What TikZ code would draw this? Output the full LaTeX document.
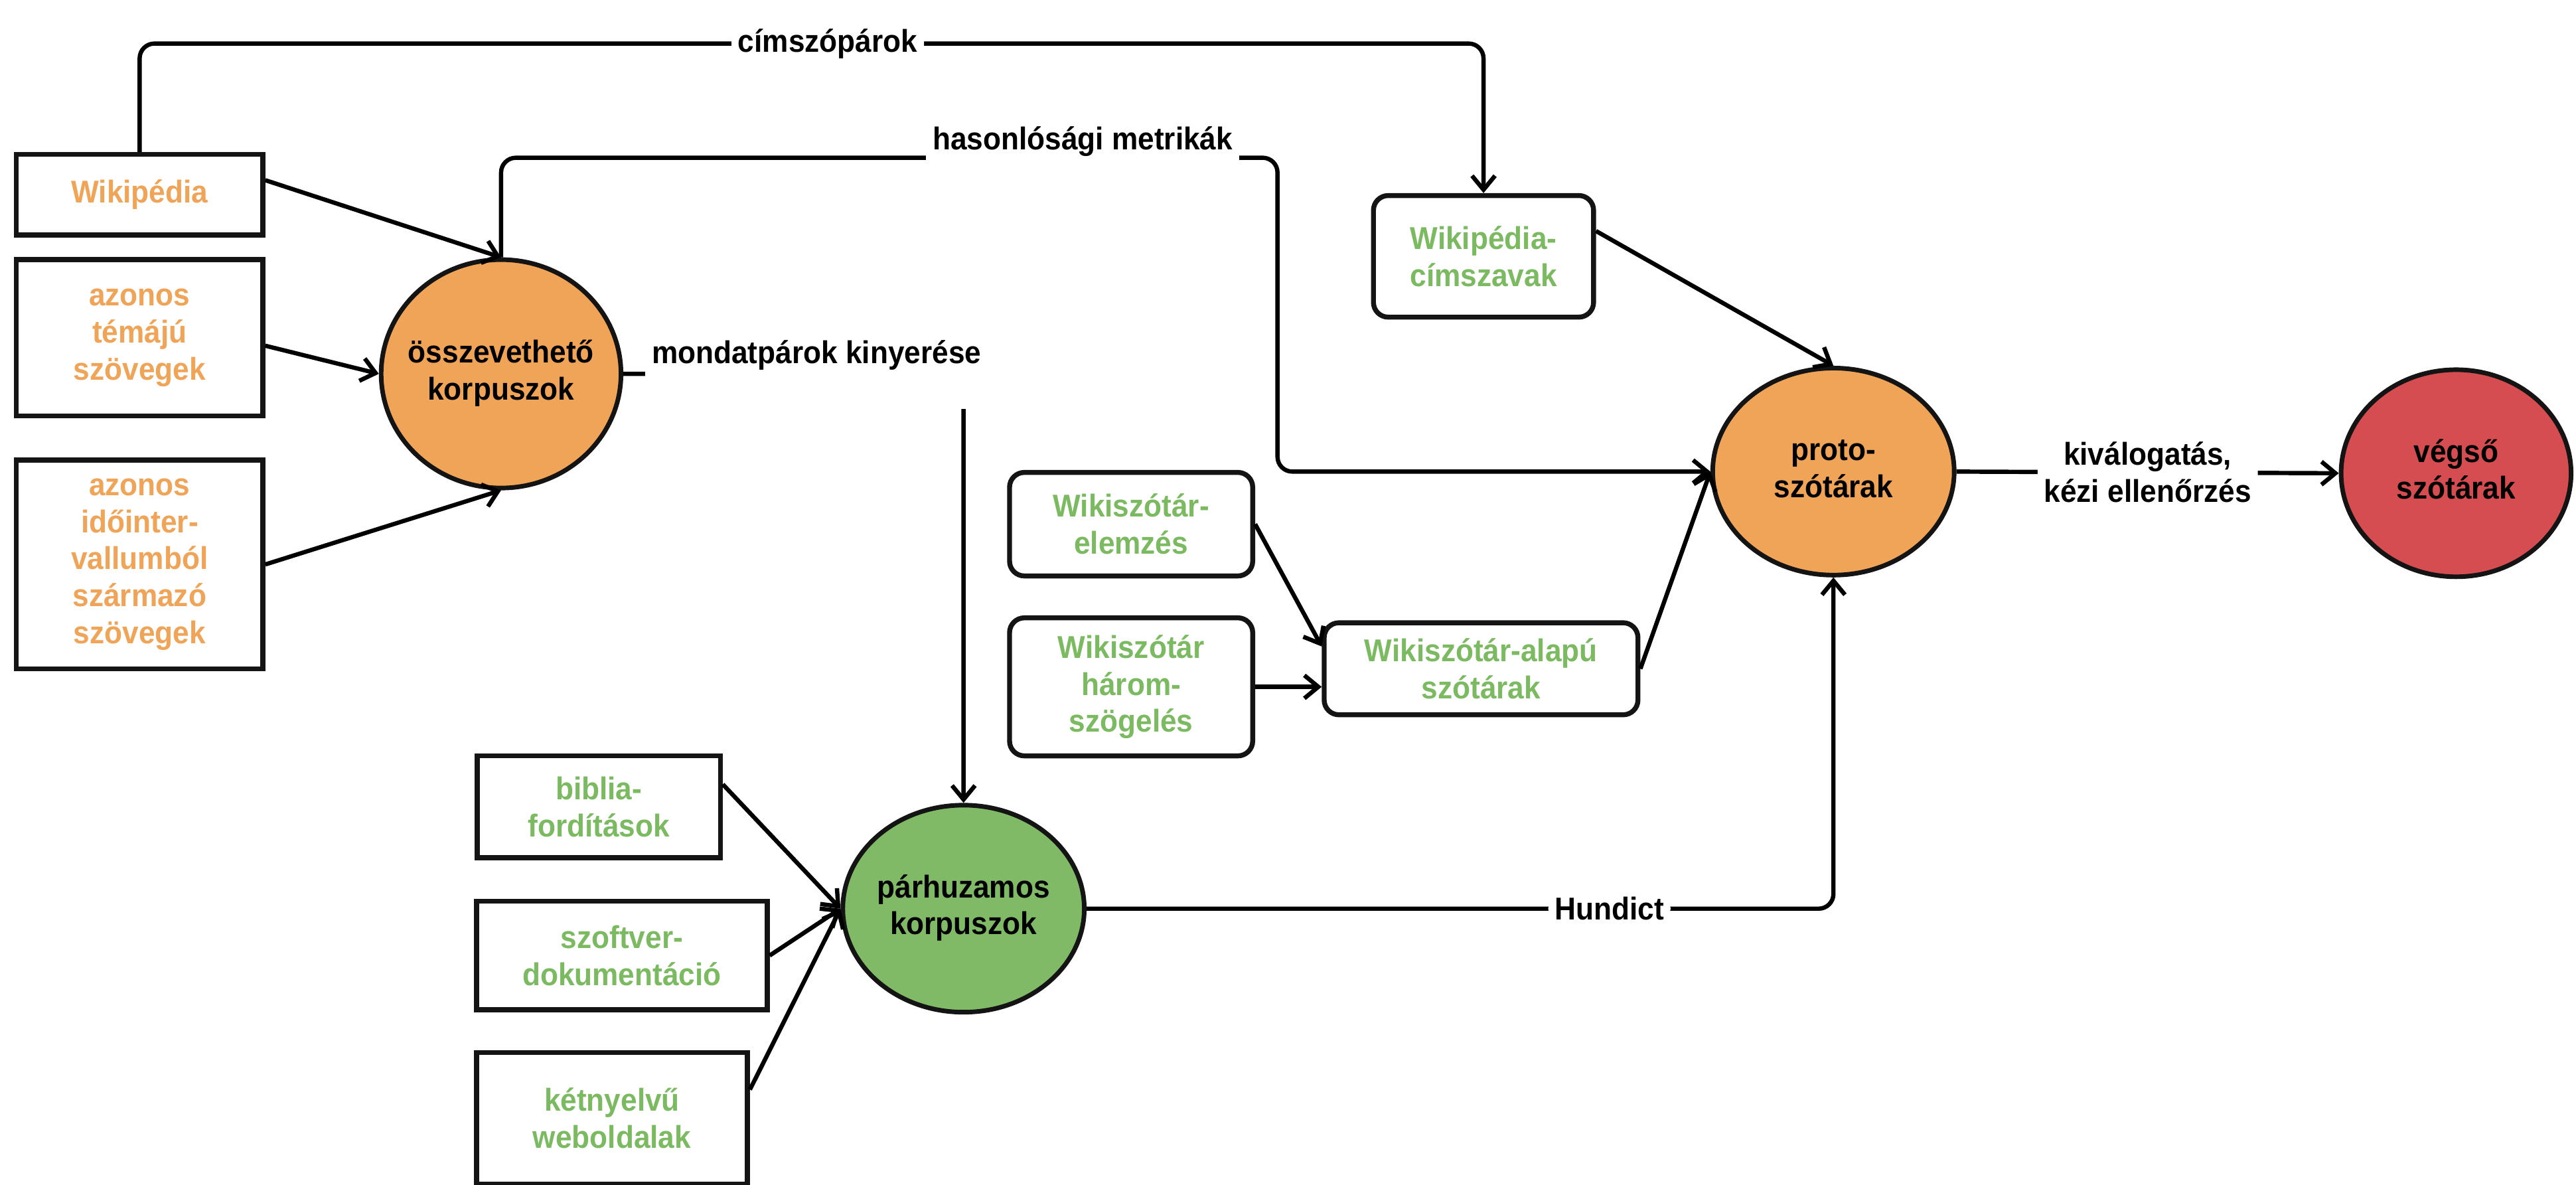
\documentclass[tikz,border=0pt]{standalone}
\usepackage{fontspec}
\setmainfont{Liberation Sans}[FakeStretch=0.93]
\usetikzlibrary{arrows.meta,calc,shapes.geometric}
\definecolor{orF}{HTML}{F0A458}
\definecolor{grF}{HTML}{80BA67}
\definecolor{rdF}{HTML}{D54C51}
\definecolor{orT}{HTML}{F0A458}
\definecolor{grT}{HTML}{7CBA62}
\newcommand{\ctext}[1]{\makebox[0pt]{\begin{tabular}{@{}c@{}}#1\end{tabular}}}
\begin{document}
\begin{tikzpicture}[x=1pt,y=-1pt,
  txt/.style={font=\fontsize{19.2}{22.5}\selectfont\bfseries, align=center},
  sqbox/.style={txt, draw=black!92, line width=3pt, fill=white, inner sep=0pt},
  rbox/.style={sqbox, rounded corners=9pt},
  blob/.style={txt, ellipse, draw=black!92, line width=2.8pt, inner sep=0pt},
  arr/.style={line width=2.6pt, -{Straight Barb[length=8.5pt,width=14pt]}, rounded corners=9pt},
  lbl/.style={txt, fill=white, inner xsep=4pt, inner ysep=1pt},
]
\useasboundingbox (0,0) rectangle (1568,721);

% nodes
\node[sqbox, text=orT, minimum width=150pt, minimum height=49pt] (wiki) at (85,118.5) {Wikipédia};
\node[sqbox, text=orT, minimum width=150pt, minimum height=95pt] (temaju) at (85,205.5) {azonos\\témájú\\szövegek};
\node[sqbox, text=orT, minimum width=150pt, minimum height=127pt] (idoint) at (85,343.5) {azonos\\időinter-\\vallumból\\származó\\szövegek};
\node[blob, fill=orF, minimum width=146pt, minimum height=139pt] (ovs) at (305,227.5) {\ctext{összevethető\\korpuszok}};
\node[rbox, text=grT, minimum width=134pt, minimum height=74pt] (cimsz) at (903,156) {Wikipédia-\\címszavak};
\node[blob, fill=orF, minimum width=147pt, minimum height=126pt] (proto) at (1116,287) {\ctext{proto-\\szótárak}};
\node[blob, fill=rdF, minimum width=140pt, minimum height=126pt] (vegso) at (1495,288) {\ctext{végső\\szótárak}};
\node[rbox, text=grT, minimum width=148pt, minimum height=63pt] (elemzes) at (688.5,319) {Wikiszótár-\\elemzés};
\node[rbox, text=grT, minimum width=148pt, minimum height=84pt] (harom) at (688.5,418) {Wikiszótár\\három-\\szögelés};
\node[rbox, text=grT, minimum width=191pt, minimum height=56pt] (alapu) at (901.5,407) {Wikiszótár-alapú\\szótárak};
\node[sqbox, text=grT, minimum width=148pt, minimum height=62pt] (biblia) at (364.5,491) {biblia-\\fordítások};
\node[sqbox, text=grT, minimum width=177pt, minimum height=66pt] (szoftver) at (378.5,581.5) {szoftver-\\dokumentáció};
\node[sqbox, text=grT, minimum width=165pt, minimum height=80pt] (ketny) at (372.5,680.5) {kétnyelvű\\weboldalak};
\node[blob, fill=grF, minimum width=147pt, minimum height=126pt] (par) at (586.5,553) {\ctext{párhuzamos\\korpuszok}};

% connectors
\draw[arr] ($(wiki.north east)!0.33!(wiki.south east)$) -- (ovs.north);
\draw[arr] ($(temaju.north east)!0.55!(temaju.south east)$) -- (ovs.west);
\draw[arr] (idoint.east) -- (ovs.south);
\draw[arr] (wiki.north) |- node[lbl,pos=0.756] (cp) {címszópárok} ($(cimsz.north)+(0,-91)$) -- (cimsz.north);
\draw[arr] (ovs.north) |- ($(proto.west)+(-263.5,-191)$) |- (proto.west);
\node[lbl, anchor=base, text depth=8pt] (hm) at (659,91) {hasonlósági metrikák};
\draw[arr] (ovs.east) -| (par.north);
\node[lbl, anchor=base, text height=24pt, text depth=27pt] (mk) at (497,221) {mondatpárok kinyerése};
\draw[arr] ($(cimsz.north east)!0.3!(cimsz.south east)$) -- (proto.north);
\draw[arr] (elemzes.east) -- ($(alapu.north west)!0.27!(alapu.south west)$);
\draw[arr] (harom.east) -- (harom.east -| alapu.west);
\draw[arr] (alapu.east) -- (proto.west);
\draw[arr] (proto.east) -- node[lbl] (kv) {kiválogatás,\\kézi ellenőrzés} (vegso.west);
\draw[arr] (par.east) -| node[lbl,pos=0.35] (hd) {Hundict} (proto.south);
\draw[arr] ($(biblia.north east)!0.29!(biblia.south east)$) -- (par.west);
\draw[arr] (szoftver.east) -- (par.west);
\draw[arr] ($(ketny.north east)!0.29!(ketny.south east)$) -- (par.west);
\end{tikzpicture}
\end{document}
